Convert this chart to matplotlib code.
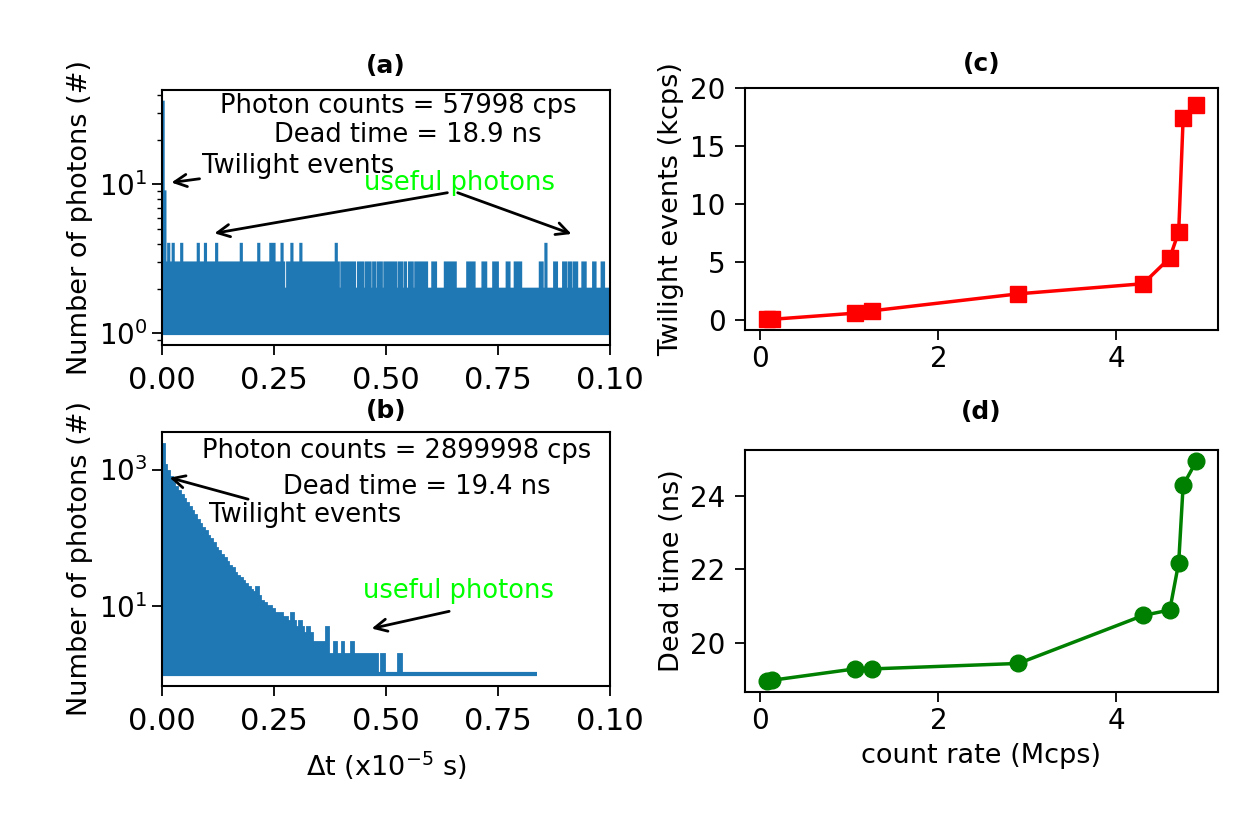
import numpy as np
import matplotlib
matplotlib.use("Agg")
import matplotlib.pyplot as plt

plt.rcParams['font.family'] = ['DejaVu Sans']

# ---------------- data ----------------
# panel (a): histogram of inter-arrival times (low count rate)
a_peak_edges = [0.0, 0.004, 0.008]
a_peak_counts = [36, 9]
a_base_level = 2
a_lvl3_blocks = [[0.008, 0.273], [0.279, 0.395], [0.400, 0.431], [0.437, 0.450],
                 [0.455, 0.466], [0.471, 0.476], [0.481, 0.491], [0.496, 0.523],
                 [0.528, 0.536], [0.541, 0.545], [0.551, 0.560], [0.565, 0.592],
                 [0.603, 0.612], [0.631, 0.656], [0.681, 0.698], [0.715, 0.724],
                 [0.739, 0.750], [0.769, 0.776], [0.787, 0.802], [0.843, 0.850],
                 [0.875, 0.882], [0.895, 0.902], [0.907, 0.914], [0.919, 0.927],
                 [0.938, 0.946], [0.962, 0.968], [0.981, 0.987]]
a_lvl4_spikes = [0.015, 0.025, 0.044, 0.081, 0.097, 0.122, 0.177, 0.216, 0.243,
                 0.250, 0.268, 0.290, 0.310, 0.389, 0.857]
a_xmax = 1.0

# panel (b): histogram of inter-arrival times (high count rate)
b_head_width = 0.006
b_head_counts = [2400, 1150, 950, 780, 640, 560, 480, 420, 370, 320,
                 280, 245, 215, 185, 160, 140, 125, 108, 95, 84,
                 72, 64, 56, 50, 44, 39, 36, 31, 28, 26,
                 23, 21, 19, 17, 16, 19, 14, 12, 11, 10,
                 10, 9, 8, 8, 8, 7, 7, 6, 8, 6,
                 5, 6, 5, 4, 5, 4, 3, 3, 3, 3,
                 3, 5]
b_tail_edges = [0.372, 0.384, 0.390, 0.401, 0.407, 0.422, 0.428, 0.483,
                0.489, 0.498, 0.527, 0.535, 0.836]
b_tail_counts = [2, 3, 2, 3, 2, 3, 2, 1, 2, 1, 2, 1]

# panels (c), (d)
count_rate = [0.07, 0.13, 1.06, 1.25, 2.90, 4.30, 4.60, 4.70, 4.75, 4.90]
twilight_kcps = [0.05, 0.05, 0.58, 0.78, 2.25, 3.12, 5.35, 7.6, 17.4, 18.5]
dead_time_ns = [18.95, 18.97, 19.28, 19.28, 19.43, 20.74, 20.89, 22.18, 24.30, 24.96]

hist_xticks = [0.0, 0.25, 0.50, 0.75, 1.0]
hist_xticklabels = ['0.00', '0.25', '0.50', '0.75', '0.10']

# ---------------- figure ----------------
W, H = 1244, 817
fig = plt.figure(figsize=(W / 100, H / 100), dpi=100)


def rect(l, t, r, b):
    return [l / W, 1 - b / H, (r - l) / W, (b - t) / H]


axA = fig.add_axes(rect(162, 90, 610, 345))
axB = fig.add_axes(rect(162, 432, 610, 686))
axC = fig.add_axes(rect(745, 88, 1218, 330))
axD = fig.add_axes(rect(745, 450, 1218, 692))

blue = '#1f77b4'
TICK = 20
LAB = 19.5
ANN = 18.5
XT = 22
TT = 18
arrow_kw = dict(arrowstyle='->', lw=2.0, color='black', shrinkA=0, shrinkB=0,
                mutation_scale=22)


def log_limits(lo, hi, frac=0.05):
    llo, lhi = np.log10(lo), np.log10(hi)
    m = (lhi - llo) * frac
    return 10 ** (llo - m), 10 ** (lhi + m)


for ax in (axA, axB, axC, axD):
    for sp in ax.spines.values():
        sp.set_linewidth(1.5)
    ax.tick_params(which='major', width=1.3, length=7)
    ax.tick_params(which='minor', width=1.0, length=3.5)

# ---- (a) build step levels from the run descriptions ----
dx = 0.0005
edgesA = np.round(np.arange(0, a_xmax + dx / 2, dx), 6)
centersA = (edgesA[:-1] + edgesA[1:]) / 2
levA = np.ones(len(centersA))
levA[centersA >= a_peak_edges[-1]] = a_base_level
for s, e in a_lvl3_blocks:
    levA[(centersA >= s) & (centersA <= e)] = 3
for c in a_lvl4_spikes:
    levA[np.abs(centersA - c) <= 0.0016] = 4
for i in range(len(a_peak_counts)):
    levA[(centersA >= a_peak_edges[i]) & (centersA < a_peak_edges[i + 1])] = a_peak_counts[i]

axA.stairs(levA, edgesA, baseline=1, fill=True, color=blue, lw=0)
axA.stairs(levA, edgesA, baseline=1, fill=False, color=blue, lw=1.3)
axA.plot([0, a_xmax], [1, 1], color=blue, lw=3, solid_capstyle='butt')
axA.set_yscale('log')
axA.set_ylim(*log_limits(1, max(a_peak_counts)))
axA.set_xlim(0, 1.0)
axA.set_xticks(hist_xticks)
axA.set_xticklabels(hist_xticklabels, fontsize=XT)
axA.tick_params(axis='x', pad=8)
axA.tick_params(axis='y', labelsize=TICK)
axA.set_ylabel('Number of photons (#)', fontsize=LAB)
axA.set_title('(a)', fontweight='bold', fontsize=TT, pad=12)

axA.text(0.528, 33.6, 'Photon counts = 57998 cps', ha='center', va='center', fontsize=ANN)
axA.text(0.548, 21.6, 'Dead time = 18.9 ns', ha='center', va='center', fontsize=ANN)
axA.annotate('Twilight events', xy=(0.021, 10.3), xytext=(0.09, 13.4),
             ha='left', va='center', fontsize=ANN, arrowprops=arrow_kw)
axA.text(0.665, 10.2, 'useful photons', ha='center', va='center', fontsize=ANN, color='lime')
axA.annotate('', xy=(0.117, 4.7), xytext=(0.637, 8.8), arrowprops=arrow_kw)
axA.annotate('', xy=(0.914, 4.65), xytext=(0.66, 8.8), arrowprops=arrow_kw)

# ---- (b) ----
head_edges = np.round(np.arange(len(b_head_counts) + 1) * b_head_width, 6)
edgesB = np.concatenate([head_edges, b_tail_edges[1:]])
levB = np.concatenate([b_head_counts, b_tail_counts])
axB.stairs(levB, edgesB, baseline=1, fill=True, color=blue, lw=0)
axB.stairs(levB, edgesB, baseline=1, fill=False, color=blue, lw=1.3)
axB.plot([0, b_tail_edges[-1]], [1, 1], color=blue, lw=3, solid_capstyle='butt')
axB.set_yscale('log')
axB.set_ylim(*log_limits(1, max(b_head_counts)))
axB.set_xlim(0, 1.0)
axB.set_yticks([10, 1000])
axB.yaxis.set_minor_locator(matplotlib.ticker.NullLocator())
axB.set_xticks(hist_xticks)
axB.set_xticklabels(hist_xticklabels, fontsize=XT)
axB.tick_params(axis='x', pad=8)
axB.tick_params(axis='y', labelsize=TICK)
axB.set_ylabel('Number of photons (#)', fontsize=LAB)
axB.set_xlabel(r'$\Delta$t (x10$^{-5}$ s)', fontsize=LAB, labelpad=10)
axB.set_title('(b)', fontweight='bold', fontsize=TT, pad=10)

axB.text(0.523, 1870, 'Photon counts = 2899998 cps', ha='center', va='center', fontsize=ANN)
axB.text(0.568, 556, 'Dead time = 19.4 ns', ha='center', va='center', fontsize=ANN)
axB.annotate('Twilight events', xy=(0.017, 760), xytext=(0.106, 216),
             ha='left', va='center', fontsize=ANN, arrowprops=arrow_kw)
axB.text(0.662, 16.8, 'useful photons', ha='center', va='center', fontsize=ANN, color='lime')
axB.annotate('', xy=(0.468, 4.7), xytext=(0.641, 8.4), arrowprops=arrow_kw)

# ---- (c) ----
axC.plot(count_rate, twilight_kcps, '-s', color='red', lw=2.5, ms=12)
axC.set_ylim(-0.87, 20)
axC.set_yticks([0, 5, 10, 15, 20])
axC.set_xticks([0, 2, 4])
axC.tick_params(labelsize=TICK)
axC.tick_params(axis='y', pad=7)
axC.set_ylabel('Twilight events (kcps)', fontsize=LAB)
axC.set_title('(c)', fontweight='bold', fontsize=TT, pad=12)

# ---- (d) ----
axD.plot(count_rate, dead_time_ns, '-o', color='green', lw=2.5, ms=12)
axD.set_xticks([0, 2, 4])
axD.set_yticks([20, 22, 24])
axD.tick_params(labelsize=TICK)
axD.tick_params(axis='y', pad=7)
axD.set_ylabel('Dead time (ns)', fontsize=LAB)
axD.set_xlabel('count rate (Mcps)', fontsize=LAB, labelpad=6)
axD.set_title('(d)', fontweight='bold', fontsize=TT, pad=22)

fig.savefig('out.png', dpi=100)
